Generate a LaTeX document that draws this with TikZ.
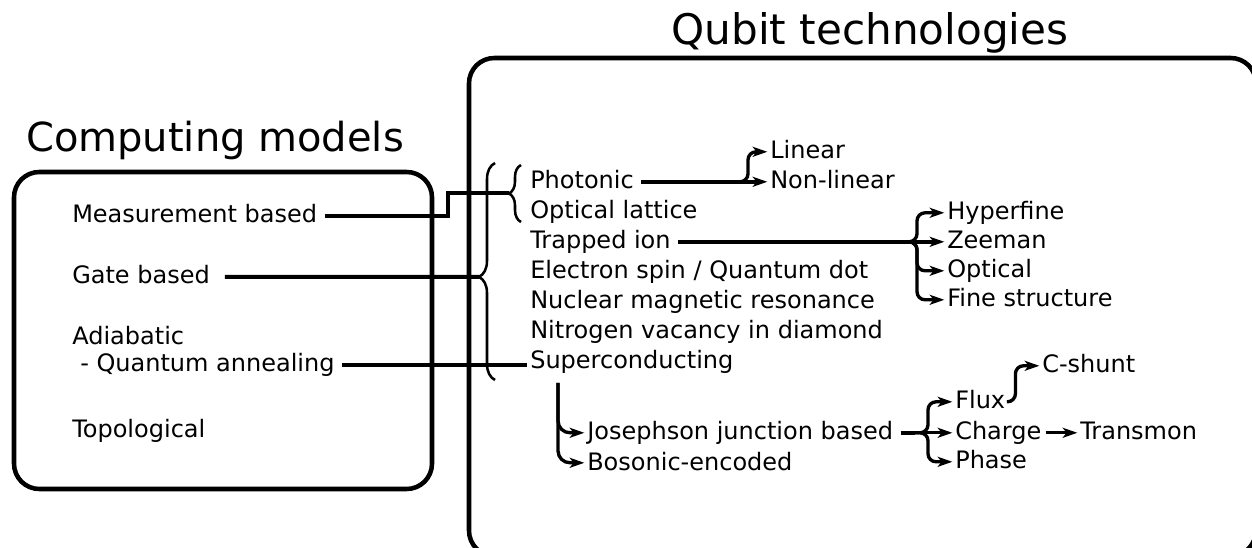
\documentclass[tikz,border=0pt]{standalone}
\usepackage{fontspec}
\setmainfont{DejaVu Sans}
\usetikzlibrary{arrows.meta,calc,decorations.pathreplacing}

\tikzset{
    panel/.style={line width=3.4pt, rounded corners=19pt},
    heading/.style={anchor=base, inner sep=0pt, font=\fontsize{#1}{36}\selectfont},
    item/.style={anchor=base west, inner sep=0pt, text height=14.4pt, text depth=3.6pt, font=\fontsize{18}{22}\selectfont},
    arrowhd/.style={-{Stealth[length=11pt,width=7.5pt,inset=3pt]}, shorten >=2pt},
    link/.style={line width=3pt, shorten <=5.5pt},
    branch/.style={line width=2.5pt, rounded corners=6pt, arrowhd},
    curly/.style={line width=1.9pt, decorate, decoration={brace, amplitude=#1}},
}

\begin{document}
\begin{tikzpicture}[x=0.75pt, y=-0.75pt]
            \clip (0,0) rectangle (1252,548);

            % the two frames, the right one runs off the page
            \draw[panel] (14,172) rectangle (432,489);
            \draw[panel] (469,58) rectangle (1256,556);
            \node[heading=30] (compmodels) at (215,152) {Computing models};
            \node[heading=31.6] (qubittech) at (870,45) {Qubit technologies};

            \node[item] (measure) at (72,223) {Measurement based};
            \node[item] (gate) at (72,284) {Gate based};
            \node[item] (adiab) at (72,345) {Adiabatic};
            \node[item] (anneal) at (80,372) {- Quantum annealing};
            \node[item] (topo) at (72,437) {Topological};

            \node[item] (photonic) at (530,189) {Photonic};
            \node[item] (optlat) at (530,219) {Optical lattice};
            \node[item] (trapion) at (530,249) {Trapped ion};
            \node[item] (espin) at (530,279) {Electron spin / Quantum dot};
            \node[item] (nmr) at (530,309) {Nuclear magnetic resonance};
            \node[item] (nv) at (530,339) {Nitrogen vacancy in diamond};
            \node[item] (sc) at (530,369) {Superconducting};

            \node[item] (linear) at (770,159) {Linear};
            \node[item] (nonlinear) at (770,189) {Non-linear};
            \node[item] (hyper) at (947,220) {Hyperfine};
            \node[item] (zeeman) at (947,249) {Zeeman};
            \node[item] (optical) at (947,278) {Optical};
            \node[item] (finestr) at (947,307) {Fine structure};

            \node[item] (jj) at (587,440) {Josephson junction based};
            \node[item] (boson) at (587,470) {Bosonic-encoded};
            \node[item] (flux) at (955,409) {Flux};
            \node[item] (charge) at (955,440) {Charge};
            \node[item] (phase) at (955,469) {Phase};
            \node[item] (cshunt) at (1042,373) {C-shunt};
            \node[item] (transmon) at (1080,440) {Transmon};

            % braces grouping the technologies
            \draw[curly=12pt, decoration={aspect=0.475}] (495,380) -- (495,163);
            \coordinate (bigtip) at (479,277);
            \draw[curly=9pt] (521,222) -- (521,165);
            \coordinate (smalltip) at (509,193);
            \coordinate (mstep) at (448,193);

            \draw[link] (measure.east) -| (mstep) -- (smalltip);
            \draw[link, shorten <=11pt] (gate.east) -- (bigtip);
            \draw[link, shorten >=2pt] (anneal.east) -- (anneal.east -| sc.west);

            % forks
            \coordinate (photfork) at ($(nonlinear.west)+(-35,0)$);
            \coordinate (photspine) at ($(nonlinear.west)+(-22,0)$);
            \draw[link, arrowhd] (photonic.east) -- (nonlinear.west);
            \draw[branch] (photfork) -- (photspine) |- (linear.west);

            \coordinate (ionfork) at ($(zeeman.west)+(-42,0)$);
            \coordinate (ionspine) at ($(zeeman.west)+(-30,0)$);
            \draw[link, arrowhd] (trapion.east) -- (zeeman.west);
            \draw[branch] (ionfork) -- (ionspine) |- (hyper.west);
            \draw[branch] (ionfork) -- (ionspine) |- (optical.west);
            \draw[branch] (ionfork) -- (ionspine) |- (finestr.west);

            \coordinate (scfork) at (558,383);
            \draw[branch, rounded corners=9pt] (scfork) |- (jj.west);
            \draw[branch, rounded corners=9pt] (scfork) |- (boson.west);

            \coordinate (jjfork) at ($(charge.west)+(-40,0)$);
            \coordinate (jjspine) at ($(charge.west)+(-27,0)$);
            \draw[link] (jj.east) -- (jjfork);
            \draw[branch] (jjfork) -- (charge.west);
            \draw[branch] (jjfork) -- (jjspine) |- (flux.west);
            \draw[branch] (jjfork) -- (jjspine) |- (phase.west);

            \coordinate (fluxspine) at ($(flux.east)+(10,0)$);
            \draw[branch, shorten <=1pt] (flux.east) -- (fluxspine) |- (cshunt.west);
            \draw[branch, shorten <=3pt] (charge.east) -- (transmon.west);
        \end{tikzpicture}
\end{document}
